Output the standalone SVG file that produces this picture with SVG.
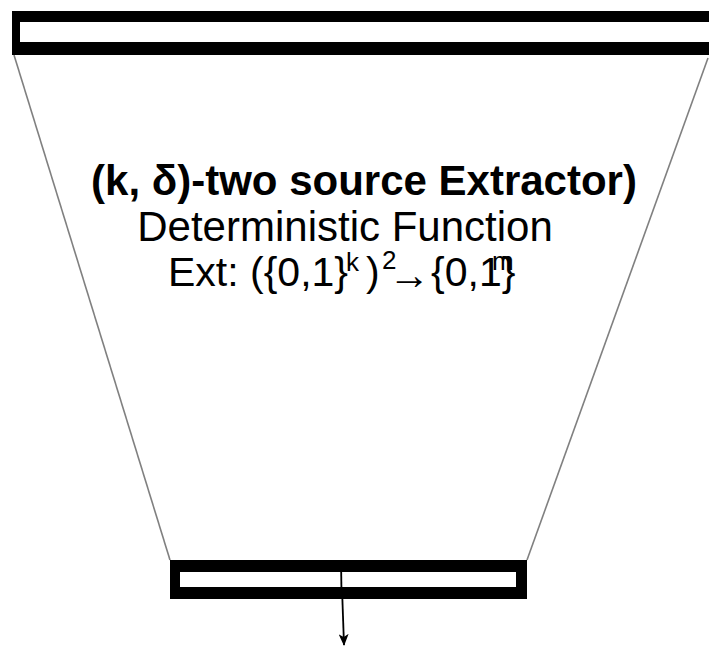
<svg xmlns="http://www.w3.org/2000/svg" width="709" height="646" viewBox="0 0 709 646">
<style>
.t{font-family:"Liberation Sans",Arial,sans-serif;fill:#000}
.b{font-weight:bold;font-size:42px}
.r{font-size:42px}
.e{font-size:41px}
.s{font-size:26px}
.side{stroke:#808080;stroke-width:1.6;fill:none}
.bar{fill:#000}
.hole{fill:#fff}
</style>
<defs>
<marker id="ah" viewBox="0 0 12 10" refX="11" refY="5" markerWidth="12" markerHeight="10" markerUnits="userSpaceOnUse" orient="auto">
<path d="M0,0 L12,5 L0,10 L3,5 Z" fill="#000"/>
</marker>
</defs>
<rect width="709" height="646" fill="#fff"/>
<g id="connectors">
<line class="side" x1="14" y1="55" x2="170" y2="560"/>
<line class="side" x1="708" y1="58" x2="527" y2="560"/>
<line x1="341" y1="560" x2="344" y2="645" stroke="#000" stroke-width="1.8" marker-end="url(#ah)"/>
</g>
<g id="source-bar">
<rect class="bar" x="12" y="11" width="710" height="44"/>
<rect class="hole" x="20" y="22" width="700" height="20"/>
</g>
<g id="output-bar">
<rect class="bar" x="170" y="560" width="357" height="39"/>
<rect class="hole" x="180" y="572" width="336" height="15"/>
<line x1="341" y1="560" x2="341.6" y2="599" stroke="#000" stroke-width="1.8"/>
</g>
<g id="extractor">
<text class="t b" x="364" y="195" text-anchor="middle">(k, δ)-two source Extractor)</text>
<text class="t r" x="345" y="241" text-anchor="middle">Deterministic Function</text>
<text class="t e" x="168" y="286">Ext: ({0,1}</text>
<text class="t s" x="346" y="271">k</text>
<text class="t e" x="366" y="286">)</text>
<text class="t s" x="382" y="269">2</text>
<text class="t" x="388" y="289" font-size="42">→</text>
<text class="t e" x="431" y="286">{0,1}</text>
<text class="t s" x="492" y="270" font-size="28">m</text>
</g>
</svg>
